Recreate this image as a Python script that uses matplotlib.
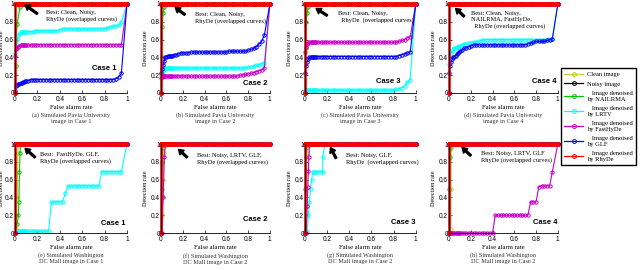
import matplotlib.pyplot as plt
from matplotlib.lines import Line2D

plt.rcParams['font.family'] = ['Liberation Serif', 'DejaVu Serif']

# false alarm rates where the ROC points sit
FA = [0, 0.01, 0.02, 0.03, 0.04, 0.05, 0.06, 0.07, 0.08, 0.09,
      0.1, 0.12, 0.14, 0.16, 0.18, 0.2, 0.225, 0.25, 0.275, 0.3,
      0.325, 0.35, 0.375, 0.4, 0.425, 0.45, 0.475, 0.5, 0.525, 0.55,
      0.575, 0.6, 0.625, 0.65, 0.675, 0.7, 0.725, 0.75, 0.775, 0.8,
      0.825, 0.85, 0.875, 0.9, 0.925, 0.95, 0.975, 1.0]
FA_END = FA[:46] + [1.0]

# ideal curve (up to 1 at once, then flat) - shared by the overlapped methods
best_x = [0] + FA
best_y = [0] + [1.0] * len(FA)

# (a) Pavia, case 1
a_green_x = [0, 0.005, 0.01, 0.02, 0.045, 0.06]
a_green_y = [0, 0.3, 0.6, 0.78, 0.97, 1.0]
a_cyan = ([0.45, 0.55, 0.61, 0.64, 0.66, 0.68, 0.68, 0.68, 0.68, 0.69]
          + [0.69] * 4 + [0.70] * 9 + [0.71] + [0.72] * 16
          + [0.73, 0.74, 0.75, 0.75, 0.76, 0.80, 1.0])
a_magenta = [0.42, 0.49, 0.51, 0.52, 0.53] + [0.54] * 41 + [1.0]
a_blue = ([0.02, 0.08, 0.09, 0.10, 0.10, 0.11, 0.11, 0.12, 0.12, 0.13, 0.13, 0.14]
          + [0.15] * 31 + [0.16, 0.18, 0.22, 1.0])

# (b) Pavia, case 2
b_green_x = [0, 0.005, 0.01, 0.02, 0.03, 0.04]
b_green_y = [0, 0.4, 0.74, 0.9, 0.97, 1.0]
b_cyan = [0.20, 0.23, 0.25, 0.26, 0.27] + [0.28] * 34 + [0.29, 0.29, 0.30, 0.31, 0.32, 0.33, 0.34, 1.0]
b_magenta = [0.17, 0.18] + [0.19] * 34 + [0.20, 0.20, 0.21, 0.21, 0.22, 0.23, 0.24, 0.25, 0.26, 0.28, 1.0]
b_blue = ([0.22, 0.27, 0.31, 0.36, 0.40, 0.41, 0.42, 0.42, 0.42, 0.42, 0.42, 0.43, 0.43, 0.44, 0.45, 0.45, 0.45, 0.45]
          + [0.46] * 14 + [0.47] * 7 + [0.48, 0.49, 0.50, 0.52, 0.55, 0.58, 0.65, 1.0])

# (c) Pavia, case 3
c_green_x = [0, 0.005, 0.01, 0.02, 0.03, 0.04]
c_green_y = [0, 0.5, 0.8, 0.9, 0.97, 1.0]
c_cyan = [0.03] * 40 + [0.04, 0.05, 0.06, 0.08, 0.12, 0.15, 1.0]
c_magenta = [0.46, 0.52, 0.55, 0.56] + [0.57] * 37 + [0.58, 0.59, 0.60, 0.62, 0.63, 1.0]
c_blue = [0.23, 0.30, 0.35, 0.38, 0.40] + [0.41] * 36 + [0.42, 0.43, 0.44, 0.45, 0.46, 1.0]

# (d) Pavia, case 4
d_cyan = ([0.33, 0.40, 0.45, 0.47, 0.49, 0.50, 0.51, 0.52, 0.52, 0.53,
           0.53, 0.54, 0.55, 0.55, 0.56, 0.56, 0.57, 0.57, 0.58, 0.59]
          + [0.60] * 24 + [0.61, 0.61, 1.0])
d_blue = ([0.23, 0.30, 0.35, 0.38, 0.40, 0.41, 0.42, 0.44, 0.45, 0.46, 0.47, 0.48, 0.50, 0.51, 0.52, 0.53]
          + [0.54] * 20 + [0.55, 0.56, 0.57, 0.58, 0.58, 0.58, 0.58, 0.59, 0.60, 0.61, 1.0])

# (e) Washington DC, case 1
e_yellow_x = [0, 0.01, 0.02, 0.025, 0.03]
e_yellow_y = [0, 0.05, 0.4, 0.9, 1.0]
e_green_x = [0, 0.02, 0.03, 0.035, 0.04, 0.045, 0.05]
e_green_y = [0, 0.1, 0.2, 0.35, 0.69, 0.9, 1.0]
e_cyan = [0.02] * 20 + [0.35] * 5 + [0.45] + [0.53] * 12 + [0.69] * 8 + [1.0]

# (f) Washington DC, case 2
f_yellow_x = [0, 0.01, 0.02, 0.025, 0.03]
f_yellow_y = [0, 0.2, 0.6, 0.9, 1.0]
f_green_x = [0, 0.005, 0.01, 0.015, 0.02]
f_green_y = [0, 0.5, 0.8, 0.95, 1.0]
f_magenta_x = [0, 0.01, 0.02, 0.03, 0.04]
f_magenta_y = [0, 0, 0.4, 0.85, 1.0]

# (g) Washington DC, case 3
g_yellow_x = [0, 0.01, 0.015, 0.02]
g_yellow_y = [0, 0.5, 0.9, 1.0]
g_green_x = [0, 0.003, 0.006, 0.01, 0.015]
g_green_y = [0, 0.5, 0.85, 0.95, 1.0]
g_cyan_x = [0, 0.01, 0.02, 0.03, 0.04, 0.05, 0.06, 0.07, 0.08, 0.1, 0.12, 0.14, 0.16, 0.16, 0.18]
g_cyan_y = [0, 0, 0.02, 0.2, 0.35, 0.5, 0.6, 0.69, 0.69, 0.69, 0.69, 0.69, 0.69, 0.85, 1.0]
g_magenta_x = [0, 0.01, 0.02, 0.025, 0.03, 0.035, 0.04]
g_magenta_y = [0, 0, 0.3, 0.52, 0.7, 0.85, 1.0]

# (h) Washington DC, case 4
h_yellow_x = [0, 0.015, 0.018, 0.02, 0.025]
h_yellow_y = [0, 0.05, 0.5, 0.95, 1.0]
h_green_x = [0, 0.003, 0.006, 0.01, 0.015]
h_green_y = [0, 0.5, 0.85, 0.95, 1.0]
h_magenta = [0.0] * 24 + [0.2] * 13 + [0.35] * 3 + [0.52] + [0.53] * 4 + [0.69, 1.0]

colors = ['#c8c832', 'black', '#00c800', 'cyan', '#c800c8', 'blue', 'red']
names = ['Clean image', 'Noisy image', '   Image denoised\nby NAILRMA', '   Image denoised\nby LRTV',
         '   Image denoised\nby FastHyDe', '   Image denoised\nby GLF', '   Image denoised\nby RhyDe']

B = (best_x, best_y)
panels = [
    dict(curves=[B, B, (a_green_x, a_green_y), (FA_END, a_cyan), (FA_END, a_magenta), (FA_END, a_blue), B],
         cap='(a) Simulated Pavia University\nimage in Case 1', case='Case 1', cpos=(0.91, 0.28),
         note='Best: Clean, Noisy,\nRhyDe (overlapped curves)', npos=(0.28, 0.93), arrow=((0.09, 0.99), (0.2, 0.89))),
    dict(curves=[B, B, (b_green_x, b_green_y), (FA_END, b_cyan), (FA_END, b_magenta), (FA_END, b_blue), B],
         cap='(b) Simulated Pavia University\nimage in Case 2', case='Case 2', cpos=(0.98, 0.11),
         note='Best: Clean, Noisy,\nRhyDe (overlapped curves)', npos=(0.31, 0.91), arrow=((0.13, 0.96), (0.22, 0.88))),
    dict(curves=[B, B, (c_green_x, c_green_y), (FA_END, c_cyan), (FA_END, c_magenta), (FA_END, c_blue), B],
         cap='(c) Simulated Pavia University\nimage in Case 3', case='Case 3', cpos=(0.86, 0.13),
         note='Best: Clean, Noisy,\n  RhyDe  (overlapped curves)', npos=(0.3, 0.92), arrow=((0.1, 0.95), (0.2, 0.87))),
    dict(curves=[B, B, B, (FA_END, d_cyan), B, (FA_END, d_blue), B],
         cap='(d) Simulated Pavia University\nimage in Case 4', case='Case 4', cpos=(0.99, 0.13),
         note='Best: Clean, Noisy,\nNAILRMA, FastHyDe,\n  RhyDe (overlapped curves)', npos=(0.2, 0.92),
         arrow=((0.06, 0.95), (0.14, 0.86))),
    dict(curves=[(e_yellow_x, e_yellow_y), B, (e_green_x, e_green_y), (FA_END, e_cyan), B, B, B],
         cap='(e) Simulated Washington\nDC Mall image in Case 1', case='Case 1', cpos=(0.99, 0.11),
         note='Best:  FastHyDe, GLF,\nRhyDe (overlapped curves)', npos=(0.22, 0.91), arrow=((0.09, 0.95), (0.18, 0.85))),
    dict(curves=[(f_yellow_x, f_yellow_y), B, (f_green_x, f_green_y), B, (f_magenta_x, f_magenta_y), B, B],
         cap='(f) Simulated Washington\nDC Mall image in Case 2', case='Case 2', cpos=(0.98, 0.15),
         note='Best: Noisy, LRTV, GLF,\nRhyDe (overlapped curves)', npos=(0.33, 0.9), arrow=((0.16, 0.94), (0.24, 0.85))),
    dict(curves=[(g_yellow_x, g_yellow_y), B, (g_green_x, g_green_y), (g_cyan_x, g_cyan_y),
                 (g_magenta_x, g_magenta_y), B, B],
         cap='(g) Simulated Washington\nDC Mall image in Case 2', case='Case 3', cpos=(1.0, 0.12),
         note='Best: Noisy, GLF,\nRhyDe  (overlapped curves)', npos=(0.37, 0.9), arrow=((0.23, 0.96), (0.28, 0.84))),
    dict(curves=[(h_yellow_x, h_yellow_y), B, (h_green_x, h_green_y), B, (FA_END, h_magenta), B, B],
         cap='(h) Simulated Washington\nDC Mall image in Case 2', case='Case 4', cpos=(1.0, 0.12),
         note='Best: Noisy, LRTV, GLF\nRhyDe (overlapped curves)', npos=(0.29, 0.92), arrow=((0.12, 0.96), (0.2, 0.87))),
]

fig = plt.figure(figsize=(6.4, 2.7), dpi=100)

lefts = [0.0234, 0.2516, 0.4766, 0.7016]
widths = [0.175, 0.170, 0.173, 0.170]
ylab_x = [-0.095, -0.12, -0.115, -0.12]
bottoms = [0.6556, 0.137]
ticks = [0, 0.2, 0.4, 0.6, 0.8, 1]
tick_txt = ['0', '0.2', '0.4', '0.6', '0.8', '1']

for i, p in enumerate(panels):
    row, col = divmod(i, 4)
    ax = fig.add_axes([lefts[col], bottoms[row], widths[col], 0.3296])
    for (x, y), c in zip(p['curves'], colors):
        red = c == 'red'
        ax.plot(x, y, color=c, lw=1.8 if red else 0.8, marker='o', ms=2.8 if red else 2.4,
                mfc='none', mec=c, mew=0.7, clip_on=False)
    ax.set_xlim(0, 1)
    ax.set_ylim(0, 1)
    ax.spines['top'].set_visible(False)
    ax.spines['right'].set_visible(False)
    for s in ['left', 'bottom']:
        ax.spines[s].set_linewidth(0.6)
    ax.set_xticks(ticks)
    ax.set_xticklabels(tick_txt, family='Liberation Sans')
    ax.set_yticks(ticks)
    ax.set_yticklabels(tick_txt, family='Liberation Sans')
    ax.tick_params(direction='in', length=2, width=0.5, labelsize=4.7)
    ax.tick_params(axis='x', pad=2.5)
    ax.tick_params(axis='y', pad=0.6)
    ax.set_xlabel('False alarm rate', fontsize=4.8)
    ax.xaxis.set_label_coords(0.5, -0.13)
    ax.set_ylabel('Detection rate', fontsize=4.5)
    ax.yaxis.set_label_coords(ylab_x[col], 0.5)
    ax.text(0.5, -0.22, p['cap'], transform=ax.transAxes, ha='center', va='top',
            fontsize=4.5, color='#333333', linespacing=1.25)
    ax.text(p['cpos'][0], p['cpos'][1], p['case'], ha='right', va='center',
            fontsize=5.5, fontweight='bold', family='Liberation Sans')
    ax.text(p['npos'][0], p['npos'][1], p['note'], ha='left', va='top', fontsize=4.6, linespacing=1.3)
    head, tail = p['arrow']
    ax.annotate('', xy=head, xytext=tail,
                arrowprops=dict(facecolor='black', edgecolor='black', width=1.3,
                                headwidth=4.5, headlength=3.5, shrink=0))

handles = [Line2D([], [], color=c, lw=0.9, marker='o', ms=2.8, mfc='none', mec=c, mew=0.7) for c in colors]
fig.legend(handles, names, loc='upper left', bbox_to_anchor=(0.876, 0.748), fontsize=4.7,
           fancybox=False, edgecolor='black', framealpha=1, handlelength=3.0, labelspacing=0.65,
           borderpad=0.5, handletextpad=0.6, numpoints=1, borderaxespad=0)

fig.savefig('out.png', dpi=100)
